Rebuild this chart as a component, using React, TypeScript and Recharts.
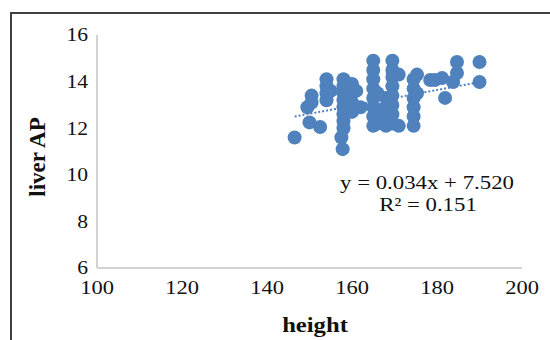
import React from 'react';
import {
  ScatterChart,
  Scatter,
  XAxis,
  YAxis,
  ReferenceLine,
} from 'recharts';

const heights = [
  146.5, 150, 152.5, 149.5, 150.5, 150.5,
  154, 154, 154, 154, 155,
  158, 158, 158, 158, 158, 158, 158, 158, 157.5, 157.8,
  160, 160, 160, 160, 161, 162,
  165, 165, 165, 165, 165, 165, 165, 165, 166, 166, 166,
  168, 168, 168, 168,
  169.5, 169.5, 169.5, 169.5, 169.5, 169.5, 169.5, 169.5,
  171, 171,
  174.5, 174.5, 174.5, 174.5, 174.5, 174.5, 175.3, 175.3,
  178.4, 179.5, 181.2, 183.8, 181.9, 184.7, 184.7, 190, 190,
];
const liverAP = [
  11.6, 12.25, 12.05, 12.9, 13.1, 13.4,
  14.1, 13.8, 13.5, 13.2, 13.6,
  14.1, 13.8, 13.5, 13.2, 12.9, 12.6, 12.3, 12.0, 11.6, 11.1,
  13.9, 13.5, 13.1, 12.7, 13.6, 12.9,
  14.9, 14.5, 14.1, 13.7, 13.3, 12.9, 12.5, 12.1, 13.5, 12.8, 12.2,
  13.3, 12.9, 12.5, 12.1,
  14.9, 14.5, 14.2, 13.8, 13.4, 13.0, 12.6, 12.2,
  14.3, 12.1,
  14.1, 13.7, 13.3, 12.9, 12.5, 12.1, 14.3, 13.5,
  14.07, 14.07, 14.15, 13.98, 13.3, 14.84, 14.37, 14.84, 13.98,
];
const xTicks = [100, 120, 140, 160, 180, 200];
const yTicks = [6, 8, 10, 12, 14, 16];
const slope = 0.034;
const intercept = 7.52;
const equation = 'y = 0.034x + 7.520';
const rSquared = 'R² = 0.151';

const points = heights.map((h, i) => ({ height: h, ap: liverAP[i] }));
const minX = Math.min(...heights);
const maxX = Math.max(...heights);

const serif = '"Liberation Serif", "Times New Roman", serif';
const blue = '#4F81BD';

const Dot = (props: any) => <circle cx={props.cx} cy={props.cy} r={7} fill={blue} />;

const YTick = ({ x, y, payload }: any) => (
  <text
    transform={`translate(${x},${y}) scale(1.2,1)`}
    textAnchor="end"
    dy="0.35em"
    fontFamily={serif}
    fontSize={18}
    fill="#111"
  >
    {payload.value}
  </text>
);

const XTick = ({ x, y, payload }: any) => (
  <text
    transform={`translate(${x},${y}) scale(1.25,1)`}
    textAnchor="middle"
    dy="0.71em"
    fontFamily={serif}
    fontSize={18}
    fill="#111"
  >
    {payload.value}
  </text>
);

const overlayText: React.CSSProperties = {
  position: 'absolute',
  fontFamily: serif,
  color: '#111',
  whiteSpace: 'nowrap',
  lineHeight: 1,
};

export default function App() {
  return (
    <div style={{ position: 'absolute', left: 0, top: 0, width: 550, height: 340, background: '#fff', overflow: 'hidden' }}>
      <div
        style={{
          position: 'absolute',
          left: 10,
          top: 12,
          width: 600,
          height: 400,
          borderTop: '2px solid #404040',
          borderLeft: '2px solid #404040',
        }}
      />
      <ScatterChart width={550} height={340} margin={{ top: 35, right: 28, left: 0, bottom: 0 }}>
        <XAxis
          type="number"
          dataKey="height"
          domain={[100, 200]}
          ticks={xTicks}
          tickLine={false}
          tickSize={0}
          tickMargin={13}
          axisLine={{ stroke: '#c4c4c4', strokeWidth: 1.5 }}
          tick={<XTick />}
          height={72}
          interval={0}
        />
        <YAxis
          type="number"
          dataKey="ap"
          domain={[6, 16]}
          ticks={yTicks}
          tickLine={false}
          tickSize={0}
          tickMargin={9}
          axisLine={{ stroke: '#c4c4c4', strokeWidth: 1.5 }}
          tick={<YTick />}
          width={97}
          interval={0}
        />
        <Scatter data={points} fill={blue} shape={<Dot />} isAnimationActive={false} />
        <ReferenceLine
          segment={[
            { x: minX, y: slope * minX + intercept },
            { x: maxX, y: slope * maxX + intercept },
          ]}
          stroke={blue}
          strokeWidth={2}
          strokeDasharray="2 2"
        />
      </ScatterChart>
      <div style={{ ...overlayText, left: 315, top: 325, fontSize: 22, fontWeight: 'bold', transform: 'translate(-50%, -50%) scaleX(1.12)' }}>
        height
      </div>
      <div
        style={{
          ...overlayText,
          left: 37,
          top: 157,
          fontSize: 23,
          fontWeight: 'bold',
          transform: 'translate(-50%, -50%) rotate(-90deg)',
        }}
      >
        liver AP
      </div>
      <div style={{ ...overlayText, left: 427, top: 173, fontSize: 19, transform: 'translateX(-50%) scaleX(1.2)' }}>
        {equation}
      </div>
      <div style={{ ...overlayText, left: 428, top: 195, fontSize: 19, transform: 'translateX(-50%) scaleX(1.2)' }}>
        {rSquared}
      </div>
    </div>
  );
}
